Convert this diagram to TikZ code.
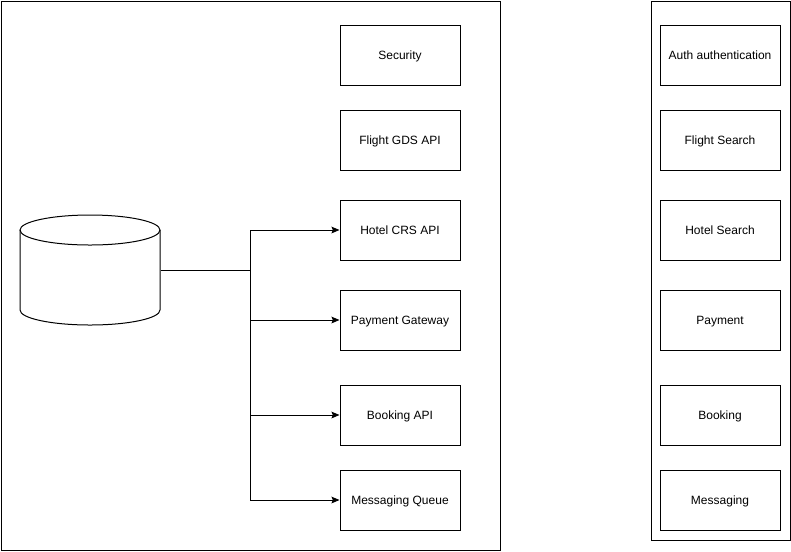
\documentclass[tikz,border=0pt]{standalone}
\usepackage{fontspec}
\setmainfont{Liberation Sans}
\usetikzlibrary{arrows.meta}

\tikzset{%
  every node/.style={
    inner sep=1pt,
    font=\fontsize{9pt}{11pt}\selectfont
  },
  svc/.style={
    draw, line width=0.75pt,
    minimum width=90pt, minimum height=45pt,
    text depth=0pt
  },
  link/.style={
    line width=0.75pt, -{Stealth[length=6pt,width=5pt,inset=1pt]}
  }
}

\begin{document}
\begin{tikzpicture}[x=0.75pt,y=-0.75pt,line width=0.75pt]
      \useasboundingbox (0,0) rectangle (791,551);
      % frames
      \node[draw, minimum width=374.6pt, minimum height=411.75pt, anchor=north west] (left) at (0.5,0.5) {};
      \node[draw, minimum width=104.6pt, minimum height=404.25pt, anchor=north west] (right) at (650.5,0.5) {};
      % left column
      \node[svc] at (400,55) (sec) {Security};
      \node[svc] at (400,140) (gds) {Flight GDS API};
      \node[svc] at (400,230) (crs) {Hotel CRS API};
      \node[svc] at (400,320) (pay) {Payment Gateway};
      \node[svc] at (400,415) (book) {Booking API};
      \node[svc] at (400,500) (queue) {Messaging Queue};
      % right column
      \node[svc] at (720,55) (auth) {Auth authentication};
      \node[svc] at (720,140) (fsearch) {Flight Search};
      \node[svc] at (720,230) (hsearch) {Hotel Search};
      \node[svc] at (720,320) (mpay) {Payment};
      \node[svc] at (720,415) (mbook) {Booking};
      \node[svc] at (720,500) (msg) {Messaging};
      % database
      \node[minimum width=105pt, minimum height=82.5pt] at (90,270) (db) {};
      \draw (20,230) -- (20,310) arc[start angle=180, end angle=0, x radius=70, y radius=15]
            -- (160,230);
      \draw (90,230) ellipse[x radius=70, y radius=15];
      % connectors
      \coordinate (bus) at (250,270);
      \draw (db.east) -- (bus);
      \draw (bus |- crs.west) -- (bus |- queue.west);
      \draw[link] (bus |- crs.west) -- (crs.west);
      \draw[link] (bus |- pay.west) -- (pay.west);
      \draw[link] (bus |- book.west) -- (book.west);
      \draw[link] (bus |- queue.west) -- (queue.west);
    \end{tikzpicture}
\end{document}
